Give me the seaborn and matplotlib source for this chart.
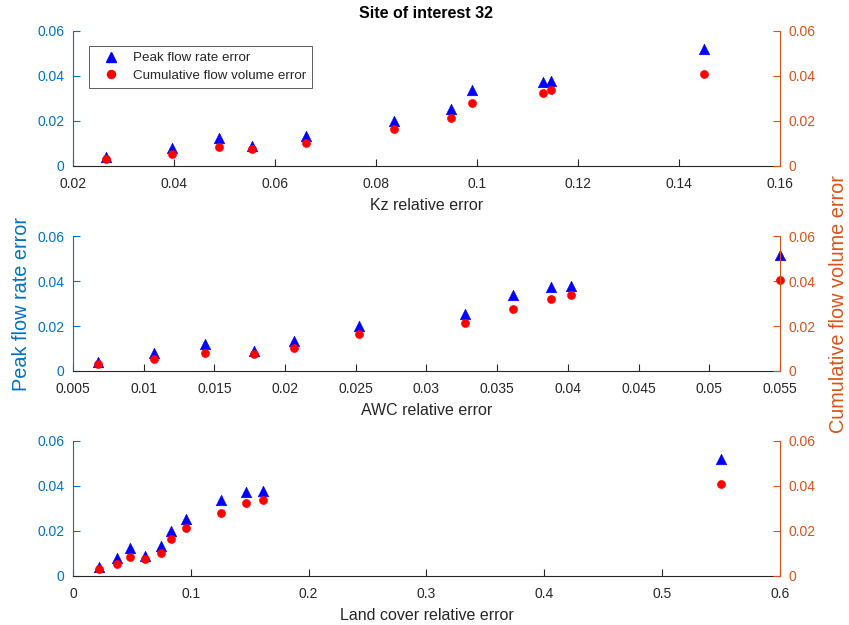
import matplotlib
matplotlib.use("Agg")
import matplotlib.pyplot as plt
from matplotlib.lines import Line2D
import numpy as np
import pandas as pd
import seaborn as sns

# Relative input errors for each perturbation run
kz_err = [0.0265, 0.0397, 0.0489, 0.0555, 0.0662, 0.0836, 0.0948, 0.0990, 0.1131, 0.1147, 0.1450]
awc_err = [0.0068, 0.0107, 0.0143, 0.0178, 0.0206, 0.0252, 0.0327, 0.0361, 0.0388, 0.0402, 0.0550]
land_err = [0.022, 0.037, 0.048, 0.061, 0.075, 0.083, 0.096, 0.126, 0.147, 0.161, 0.550]

# Resulting output errors
peak_err = [0.0040, 0.0078, 0.0122, 0.0089, 0.0132, 0.0200, 0.0254, 0.0338, 0.0374, 0.0378, 0.0518]
cum_err = [0.0030, 0.0054, 0.0082, 0.0075, 0.0103, 0.0164, 0.0212, 0.0278, 0.0322, 0.0337, 0.0407]

x_labels = ["Kz relative error", "AWC relative error", "Land cover relative error"]
x_limits = [(0.02, 0.16), (0.005, 0.055), (0.0, 0.6)]
x_ticks = [np.arange(0.02, 0.1601, 0.02), np.arange(0.005, 0.05501, 0.005), np.arange(0.0, 0.601, 0.1)]
y_ticks = [0, 0.02, 0.04, 0.06]

BLUE = "#0072BD"
ORANGE = "#D95319"
DARK = "#262626"

sns.set_theme(style="white")
plt.rcParams["font.family"] = ["Liberation Sans", "DejaVu Sans"]

df = pd.DataFrame({"kz": kz_err, "awc": awc_err, "land": land_err,
                   "peak": peak_err, "cum": cum_err})
x_cols = ["kz", "awc", "land"]

fig = plt.figure(figsize=(8.49, 6.25), dpi=100)
left, width = 0.086, 0.8327
bottoms = [0.7349, 0.4064, 0.0789]
height = 0.2155


def fmt(v):
    s = f"{v:.3f}".rstrip("0").rstrip(".")
    return s if s else "0"


for i in range(3):
    ax = fig.add_axes([left, bottoms[i], width, height])
    ax2 = ax.twinx()
    ax.set_zorder(1)
    ax2.set_zorder(2)
    ax.patch.set_visible(False)

    sns.scatterplot(data=df, x=x_cols[i], y="peak", ax=ax, marker="^", s=58,
                    color="#0000FF", edgecolor="#0000FF", linewidth=0.4,
                    legend=False, clip_on=False)
    sns.scatterplot(data=df, x=x_cols[i], y="cum", ax=ax2, marker="o", s=34,
                    color="#FF0000", edgecolor="#FF0000", linewidth=0.4,
                    legend=False, clip_on=False)

    for a in (ax, ax2):
        a.set_xlim(*x_limits[i])
        a.set_ylim(0, 0.06)
        a.set_yticks(y_ticks)
        a.set_yticklabels([fmt(v) for v in y_ticks])
        a.spines["top"].set_visible(False)

    ax.set_xticks(x_ticks[i])
    ax.set_xticklabels([fmt(v) for v in x_ticks[i]])
    ax.set_xlabel(x_labels[i], fontsize=11.5, color=DARK, labelpad=5)
    ax.set_ylabel("")
    ax2.set_ylabel("")

    ax.spines["right"].set_visible(False)
    ax.spines["left"].set_color(BLUE)
    ax.spines["bottom"].set_color(DARK)
    ax2.spines["left"].set_visible(False)
    ax2.spines["bottom"].set_visible(False)
    ax2.spines["right"].set_color(ORANGE)
    for sp in list(ax.spines.values()) + list(ax2.spines.values()):
        sp.set_linewidth(0.8)

    ax.tick_params(axis="x", direction="in", length=5, width=0.8, colors=DARK,
                   labelcolor=DARK, labelsize=10, pad=8, bottom=True)
    ax.tick_params(axis="y", direction="in", length=5, width=0.8, colors=BLUE,
                   labelcolor=BLUE, labelsize=10, pad=6, left=True)
    ax2.tick_params(axis="y", direction="in", length=5, width=0.8, colors=ORANGE,
                    labelcolor=ORANGE, labelsize=10, pad=6, right=True)
    ax2.tick_params(axis="x", bottom=False, labelbottom=False)

    if i == 0:
        ax.set_title("Site of interest 32", fontsize=11.5, fontweight="bold",
                     color="black", pad=9)
        handles = [
            Line2D([], [], linestyle="none", marker="^", markersize=7.6,
                   color="#0000FF", label="Peak flow rate error"),
            Line2D([], [], linestyle="none", marker="o", markersize=5.8,
                   color="#FF0000", label="Cumulative flow volume error"),
        ]
        leg = ax2.legend(handles=handles, loc="upper left",
                         bbox_to_anchor=(0.0226, 0.888), borderaxespad=0,
                         fontsize=9.6, frameon=True, fancybox=False,
                         handletextpad=0.45, borderpad=0.45, labelspacing=0.4,
                         handlelength=2.4)
        leg.get_frame().set_edgecolor("#333333")
        leg.get_frame().set_linewidth(0.7)
    if i == 1:
        ax.set_ylabel("Peak flow rate error", fontsize=14.3, color=BLUE, labelpad=5)
        ax2.set_ylabel("Cumulative flow volume error", fontsize=14.3,
                       color=ORANGE, labelpad=10)

fig.savefig("out.png", dpi=100, facecolor="white")
